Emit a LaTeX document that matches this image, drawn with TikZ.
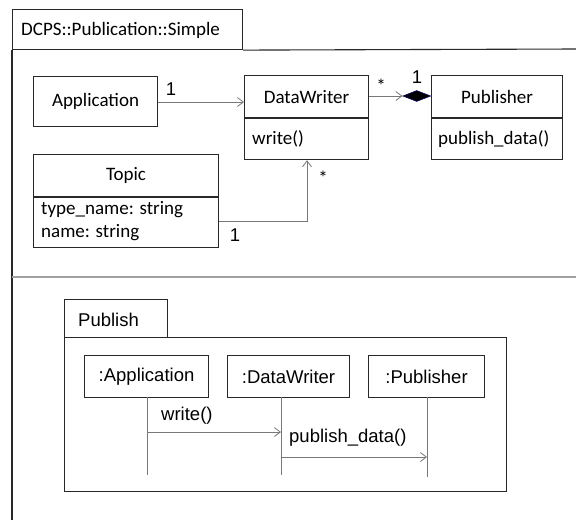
\documentclass[tikz,border=0pt]{standalone}
\usepackage{fontspec}
\setmainfont{Liberation Sans}
\newfontfamily\cfont{Carlito}
\newfontfamily\afont{Liberation Sans}
\usetikzlibrary{arrows.meta,shapes.geometric}
\definecolor{boxc}{RGB}{40,40,40}
\definecolor{linec}{RGB}{120,120,120}
\definecolor{sepc}{RGB}{160,160,160}
\tikzset{
  umlbox/.style={draw=boxc, line width=1.1pt, inner sep=0pt, anchor=north west, font=\cfont\fontsize{19}{22}\selectfont},
  seqbox/.style={draw=boxc, line width=1.1pt, inner sep=0pt, anchor=north west, font=\afont\fontsize{18.5}{22}\selectfont},
  ctext/.style={inner sep=0pt, font=\cfont\fontsize{19}{22}\selectfont},
  atext/.style={inner sep=0pt, font=\afont\fontsize{18.5}{22}\selectfont},
  conn/.style={draw=linec, line width=0.8pt},
  openarr/.style={conn, -{Straight Barb[length=6pt,width=9pt,line width=0.8pt]}},
  lifeline/.style={draw=linec, line width=0.8pt},
}
\begin{document}
\begin{tikzpicture}[x=1pt,y=-1pt]
\useasboundingbox[fill=white] (0,0) rectangle (576,520);
% outer package
\node[umlbox, minimum width=230pt, minimum height=40pt] (pkgtab) at (12,9) {};
\node[ctext, anchor=west] (pkgname) at (21,30) {DCPS::Publication::Simple};
\coordinate (pkgright) at (576,49);
\coordinate (pkgbottom) at (12,520);
\draw[draw=boxc, line width=1.1pt] (pkgtab.south east) -- (pkgright);
\draw[draw=boxc, line width=1.1pt] (pkgtab.south west) -- (pkgbottom);
% separator
\coordinate (sepl) at (12,277);
\coordinate (sepr) at (576,277);
\draw[draw=sepc, line width=1.1pt] (sepl) -- (sepr);

% class diagram
\node[umlbox, minimum width=124pt, minimum height=50pt] (app) at (33,76) {};
\node[ctext] (apptxt) at (app.center) {Application};

\node[umlbox, minimum width=124pt, minimum height=42pt] (dw) at (244,75) {};
\node[ctext] (dwtxt) at (dw.center) {DataWriter};
\node[umlbox, minimum width=124pt, minimum height=41pt] (dwops) at (dw.south west) {};
\node[ctext, anchor=west] (dwop) at ([xshift=8pt]dwops.west) {write()};

\node[umlbox, minimum width=131pt, minimum height=42pt] (pub) at (431,75) {};
\node[ctext] (pubtxt) at (pub.center) {Publisher};
\node[umlbox, minimum width=131pt, minimum height=41pt] (pubops) at (pub.south west) {};
\node[ctext, anchor=west] (pubop) at ([xshift=7pt]pubops.west) {publish\_data()};

\node[umlbox, minimum width=185pt, minimum height=42pt] (topic) at (33,154) {};
\node[ctext] (topictxt) at (topic.center) {Topic};
\node[umlbox, minimum width=185pt, minimum height=50pt] (topicattr) at (topic.south west) {};
\node[ctext, anchor=west] (attr1) at (41,210) {type\_name: string};
\node[ctext, anchor=west] (attr2) at (41,233) {name: string};

% connectors
\draw[openarr] (app.east |- 0,102) -- (dw.west |- 0,102);
\node[atext] (m1) at (171,89) {1};

\node[diamond, fill=black, draw=black!60!blue, line width=0.5pt, inner sep=0pt,
      minimum width=28pt, minimum height=11pt, anchor=east] (comp) at (pub.west |- 0,96) {};
\draw[openarr] (dw.east |- comp) -- (comp.west);
\node[ctext] (m2) at (381,86) {*};
\node[atext] (m3) at (417,77) {1};

\coordinate (tcorner) at (307,221);
\draw[openarr] (topicattr.east |- tcorner) -- (tcorner) -- (tcorner |- dwops.south);
\node[ctext] (m4) at (323,178) {*};
\node[atext] (m5) at (235,235) {1};

% sequence diagram
\node[seqbox, minimum width=103pt, minimum height=38pt] (seqtab) at (64,299) {};
\node[atext, anchor=west] (seqname) at (78,320) {Publish};
\node[seqbox, minimum width=442pt, minimum height=154pt] (seqframe) at (64,337) {};

\node[seqbox, minimum width=124pt, minimum height=42pt] (oapp) at (84,355) {};
\node[atext] (oapptxt) at (oapp.center) {:Application};
\node[seqbox, minimum width=122pt, minimum height=42pt] (odw) at (227,355) {};
\node[atext] (odwtxt) at (odw.center) {:DataWriter};
\node[seqbox, minimum width=116pt, minimum height=42pt] (opub) at (368,355) {};
\node[atext] (opubtxt) at (opub.center) {:Publisher};

\coordinate (l1top) at (147,397);
\coordinate (l1bot) at (147,475);
\coordinate (l2top) at (281,397);
\coordinate (l2bot) at (281,475);
\coordinate (l3top) at (427,397);
\coordinate (l3bot) at (427,477);
\draw[lifeline] (l1top) -- (l1bot);
\draw[lifeline] (l2top) -- (l2bot);
\draw[lifeline] (l3top) -- (l3bot);

\draw[openarr] (l1top |- 0,432) -- (l2top |- 0,432);
\node[atext, anchor=west] (wlbl) at (161,416) {write()};
\draw[openarr] (l2top |- 0,457) -- (l3top |- 0,457);
\node[atext, anchor=west] (plbl) at (289,438) {publish\_data()};
\end{tikzpicture}
\end{document}
